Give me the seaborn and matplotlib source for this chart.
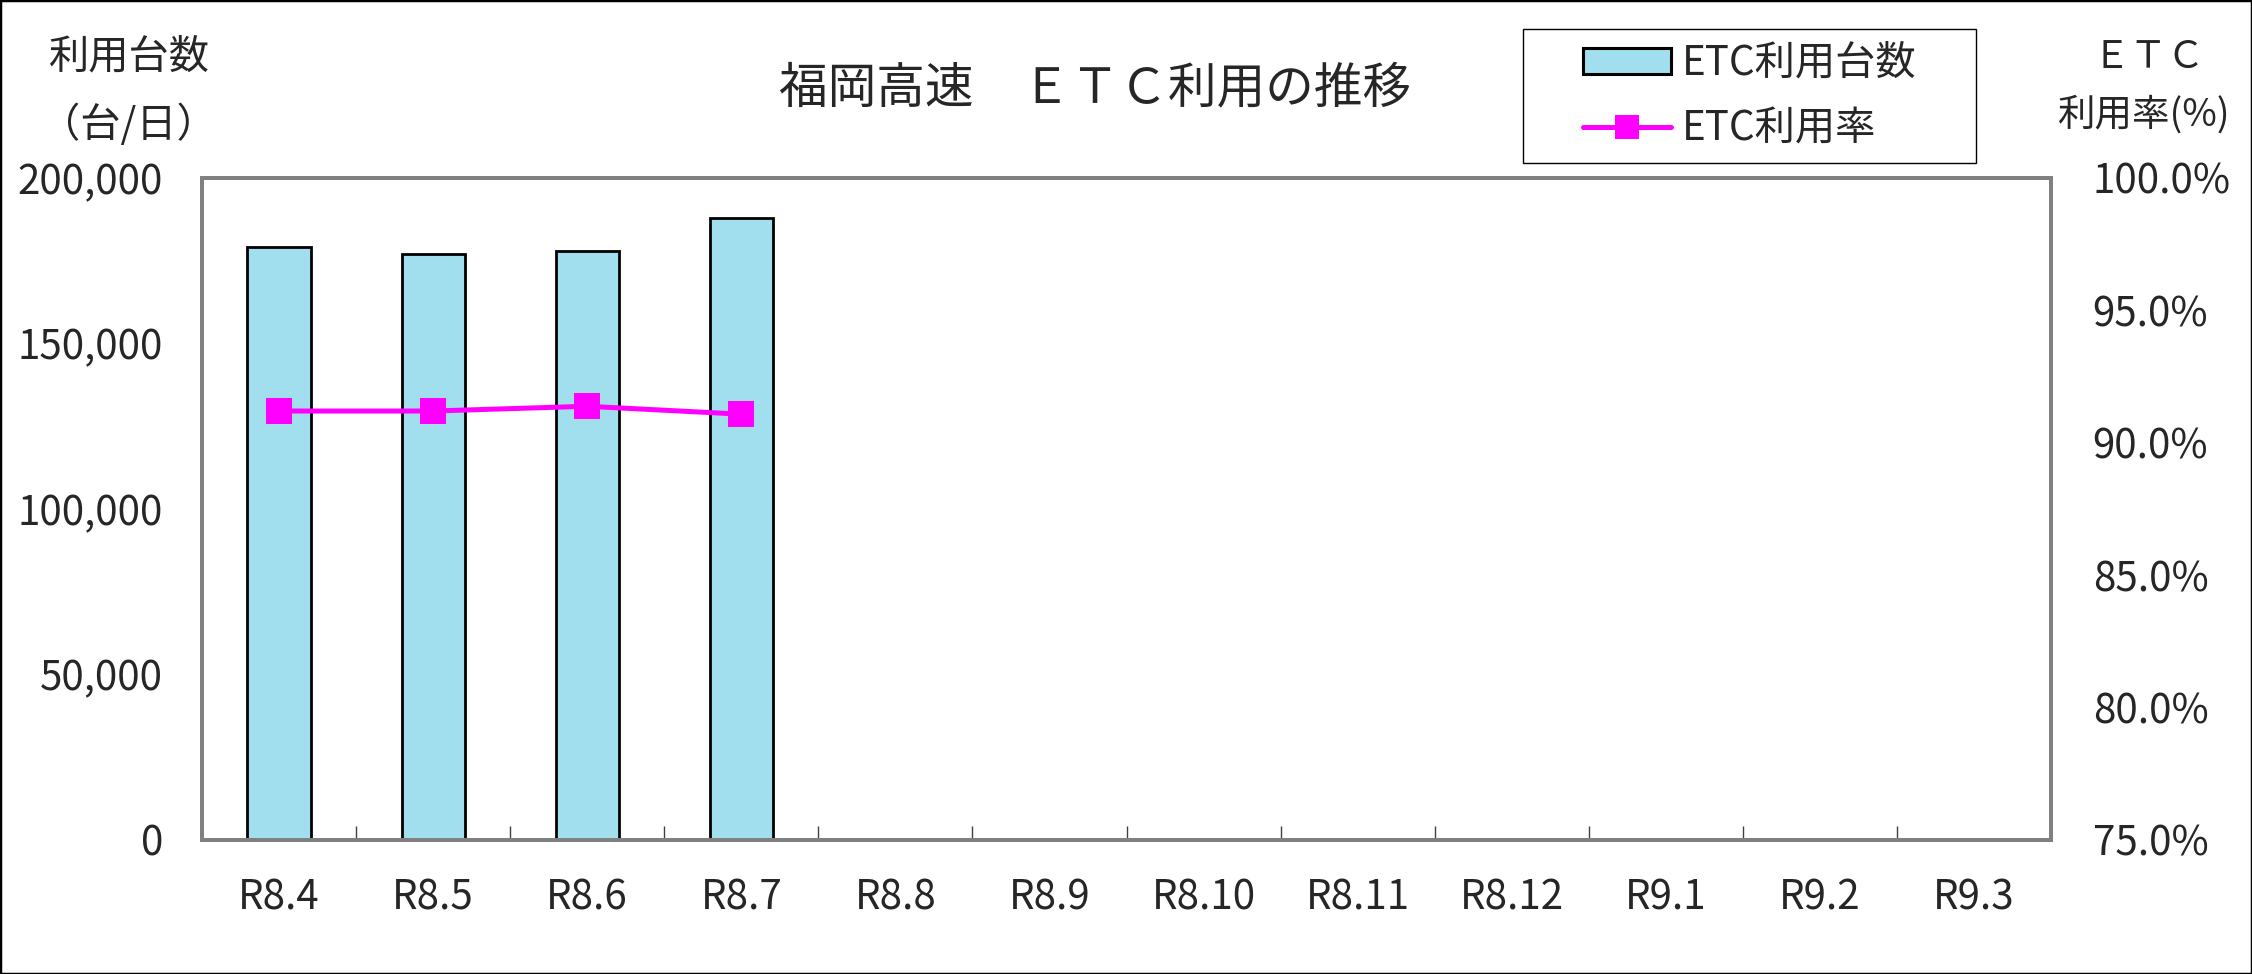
import matplotlib
matplotlib.use('Agg')
import matplotlib.pyplot as plt
import seaborn as sns
import pandas as pd
import numpy as np
from matplotlib.ticker import FuncFormatter, FixedLocator
from matplotlib.patches import Rectangle, Patch
from matplotlib.lines import Line2D

# ---- data ----
months = ["R8.4", "R8.5", "R8.6", "R8.7", "R8.8", "R8.9", "R8.10",
          "R8.11", "R8.12", "R9.1", "R9.2", "R9.3"]
observed_months = ["R8.4", "R8.5", "R8.6", "R8.7"]
etc_counts = [179100, 177000, 178000, 187900]
etc_rate = [0.9120, 0.9120, 0.9138, 0.9108]
count_ticks = [0, 50000, 100000, 150000, 200000]
rate_ticks = [0.75, 0.80, 0.85, 0.90, 0.95, 1.00]

title = "福岡高速　ＥＴＣ利用の推移"
bar_label = "ETC利用台数"
line_label = "ETC利用率"

BAR_COLOR = "#A1DFEE"
LINE_COLOR = "#FF00FF"
SPINE_COLOR = "#808080"
FS = 29

sns.set_style("white")
plt.rcParams['font.family'] = ['Noto Sans CJK JP', 'DejaVu Sans']

W, H = 2252, 974
fig = plt.figure(figsize=(W / 100, H / 100), dpi=100)
L, R, T, B = 202, 2051, 178, 840
ax = fig.add_axes([L / W, 1 - B / H, (R - L) / W, (B - T) / H])

df_bar = pd.DataFrame({"month": observed_months, "count": etc_counts})
df_line = pd.DataFrame({"month": observed_months, "rate": etc_rate})

sns.barplot(data=df_bar, x="month", y="count", order=months, ax=ax,
            color=BAR_COLOR, saturation=1, edgecolor="black", linewidth=2.0,
            width=0.41)
ax.set_ylim(0, 200000)
ax.yaxis.set_major_locator(FixedLocator(count_ticks))
ax.yaxis.set_major_formatter(FuncFormatter(lambda v, p: f"{int(v):,}"))

ax2 = ax.twinx()
sns.pointplot(data=df_line, x="month", y="rate", order=months, ax=ax2,
              color=LINE_COLOR, markers="s", errorbar=None,
              markersize=19, linewidth=3.6, markeredgewidth=0)
ax2.set_ylim(0.75, 1.0)
ax2.yaxis.set_major_locator(FixedLocator(rate_ticks))
ax2.yaxis.set_major_formatter(FuncFormatter(lambda v, p: f"{v * 100:.1f}%"))
ax.set_xlim(-0.5, len(months) - 0.5)

for a in (ax, ax2):
    a.set_xlabel("")
    a.set_ylabel("")
    for s in a.spines.values():
        s.set_color(SPINE_COLOR)
        s.set_linewidth(2.8)

ax.tick_params(axis="x", which="major", length=0, pad=27, labelsize=FS)
ax.set_xticks(np.arange(0.5, len(months) - 1, 1), minor=True)
ax.tick_params(axis="x", which="minor", direction="in", length=10,
               width=1.0, color="#404040", bottom=True)
ax.tick_params(axis="y", which="major", length=0, pad=28, labelsize=FS)
ax2.tick_params(axis="y", which="major", length=0, pad=30, labelsize=FS)
for lbl in ax2.get_yticklabels():
    lbl.set_horizontalalignment("left")

# title and axis captions
fig.text(1095 / W, 1 - 89 / H, title, ha="center", va="center", fontsize=35)
fig.text(129 / W, 1 - 57 / H, "利用台数", ha="center", va="center", fontsize=FS)
fig.text(128 / W, 1 - 125 / H, "（台/日）", ha="center", va="center", fontsize=FS)
fig.text(2149 / W, 1 - 57 / H, "ＥＴＣ", ha="center", va="center", fontsize=FS - 2)
fig.text(2144 / W, 1 - 115 / H, "利用率(%)", ha="center", va="center", fontsize=FS - 2)

# legend with its own frame
lx0, lx1, ly0, ly1 = 1523, 1976, 29, 163
fig.patches.append(Rectangle((lx0 / W, 1 - ly1 / H), (lx1 - lx0) / W, (ly1 - ly0) / H,
                             transform=fig.transFigure, fill=True, facecolor="white",
                             edgecolor="black", linewidth=1.0, zorder=5))
handles = [Patch(facecolor=BAR_COLOR, edgecolor="black", linewidth=2.2, label=bar_label),
           Line2D([], [], color=LINE_COLOR, marker="s", markersize=17, linewidth=3.6,
                  markeredgewidth=0, label=line_label)]
leg = fig.legend(handles=handles, loc="center",
                 bbox_to_anchor=((lx0 + lx1) / 2 / W, 1 - (ly0 + ly1) / 2 / H),
                 frameon=False, fontsize=FS, handlelength=2.2, handleheight=0.6,
                 handletextpad=0.25, labelspacing=0.6, borderpad=0.1)
leg.set_zorder(6)

# figure border
fig.patches.append(Rectangle((0, 0), 1, 1, transform=fig.transFigure, fill=False,
                             edgecolor="black", linewidth=2.5, zorder=10))

fig.savefig("out.png", dpi=100)
